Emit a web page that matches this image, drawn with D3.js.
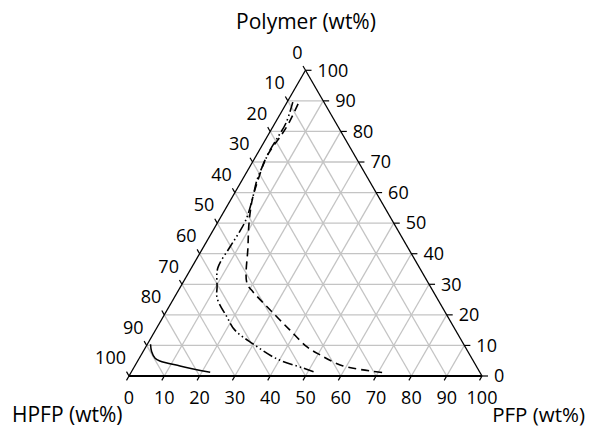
<!DOCTYPE html>
<html>
<head>
<meta charset="utf-8">
<script src="https://cdn.jsdelivr.net/npm/d3@7"></script>
<style>
  html, body { margin: 0; padding: 0; background: #fff; }
  svg { display: block; }
  text { font-family: "Open Sans", "Noto Sans", sans-serif; fill: #000; }
</style>
</head>
<body>
<svg id="chart" width="591" height="427"></svg>
<script>
// ---- data (wt%) ----
const tickValues = [0, 10, 20, 30, 40, 50, 60, 70, 80, 90, 100];
const axisTitles = ["Polymer (wt%)", "HPFP (wt%)", "PFP (wt%)"];

// solid curve
const solidPolymer = [10.4, 8.0, 5.8, 4.9, 3.3, 1.2];
const solidPFP     = [0.9, 2.4, 4.5, 6.3, 12.8, 22.4];

// dashed curve
const dashedPolymer = [89.0, 82.8, 78.2, 74.6, 70.7, 64.1, 57.6, 50.0, 42.2, 30.4, 27.5, 21.6, 15.0, 9.5, 6.9, 3.3, 1.1];
const dashedPFP     = [3.4, 3.9, 3.7, 3.2, 3.2, 4.5, 6.1, 9.0, 12.6, 18.2, 21.4, 29.2, 38.1, 45.7, 50.7, 59.0, 71.7];

// dash-dot-dot curve
const dotPolymer = [89.6, 82.8, 78.2, 73.9, 69.7, 64.1, 57.6, 51.0, 46.5, 42.2, 35.3, 29.1, 25.5, 19.3, 15.0, 10.5, 5.6, 2.6, 1.3];
const dotPFP     = [1.6, 3.1, 3.1, 3.0, 3.4, 4.2, 6.1, 7.6, 7.7, 7.5, 7.5, 10.4, 12.2, 18.1, 22.5, 29.9, 39.1, 48.0, 51.8];

// ---- layout ----
const x0 = 129, y0 = 376, W = 353, H = W * Math.sqrt(3) / 2;
const sx = d3.scaleLinear().domain([0, 100]).range([x0, x0 + W]);
const sy = d3.scaleLinear().domain([0, 100]).range([y0, y0 - H]);
// point from (polymer, pfp)
const P = (poly, pfp) => [sx(pfp + poly / 2), sy(poly)];

const svg = d3.select("#chart");

// grid
const grid = svg.append("g").attr("stroke", "#c4c4c4").attr("stroke-width", 1.3).attr("fill", "none");
tickValues.slice(1, -1).forEach(v => {
  let a = P(v, 0), b = P(v, 100 - v);
  grid.append("line").attr("x1", a[0]).attr("y1", a[1]).attr("x2", b[0]).attr("y2", b[1]);
  a = P(0, v); b = P(100 - v, v);
  grid.append("line").attr("x1", a[0]).attr("y1", a[1]).attr("x2", b[0]).attr("y2", b[1]);
  a = P(0, 100 - v); b = P(100 - v, 0);
  grid.append("line").attr("x1", a[0]).attr("y1", a[1]).attr("x2", b[0]).attr("y2", b[1]);
});

// triangle frame
const A = P(0, 0), B = P(0, 100), C = P(100, 0);
svg.append("line").attr("x1", A[0]).attr("y1", A[1]).attr("x2", C[0]).attr("y2", C[1])
  .attr("stroke", "#000").attr("stroke-width", 1.3);
svg.append("line").attr("x1", B[0]).attr("y1", B[1]).attr("x2", C[0]).attr("y2", C[1])
  .attr("stroke", "#000").attr("stroke-width", 1.3);
svg.append("line").attr("x1", A[0]).attr("y1", A[1]).attr("x2", B[0]).attr("y2", B[1])
  .attr("stroke", "#000").attr("stroke-width", 2.2);

// ticks and labels
const tl = 5, c30 = Math.sqrt(3) / 2;
const ticks = svg.append("g").attr("stroke", "#000").attr("stroke-width", 1.2);
const labels = svg.append("g").attr("font-size", 18);
tickValues.forEach(v => {
  // right axis: polymer
  let p = P(v, 100 - v);
  ticks.append("line").attr("x1", p[0]).attr("y1", p[1]).attr("x2", p[0] + tl + 1).attr("y2", p[1]);
  labels.append("text").attr("x", p[0] + 12).attr("y", p[1]).attr("dy", "0.35em")
    .attr("text-anchor", "start").text(v);
  // left axis: HPFP (0 at top)
  p = P(100 - v, 0);
  ticks.append("line").attr("x1", p[0]).attr("y1", p[1]).attr("x2", p[0] - tl * 0.5).attr("y2", p[1] - tl * c30);
  labels.append("text").attr("x", p[0] - 3).attr("y", p[1] - 18).attr("dy", "0.35em")
    .attr("text-anchor", "end").text(v);
  // bottom axis: PFP
  p = P(0, v);
  ticks.append("line").attr("x1", p[0]).attr("y1", p[1]).attr("x2", p[0] - tl * 0.5).attr("y2", p[1] + tl * c30);
  labels.append("text").attr("x", p[0]).attr("y", 404)
    .attr("text-anchor", "middle").text(v);
});

// axis titles
svg.append("text").attr("x", 306).attr("y", 29).attr("font-size", 21).attr("text-anchor", "middle").text(axisTitles[0]);
svg.append("text").attr("x", 12).attr("y", 422).attr("font-size", 21).attr("text-anchor", "start").text(axisTitles[1]);
svg.append("text").attr("x", 585).attr("y", 422).attr("font-size", 20.5).attr("text-anchor", "end").text(axisTitles[2]);

// curves
const line = d3.line().curve(d3.curveCatmullRom.alpha(0.5));
const mk = (polys, pfps) => polys.map((v, i) => P(v, pfps[i]));

svg.append("path").attr("d", line(mk(solidPolymer, solidPFP)))
  .attr("fill", "none").attr("stroke", "#000").attr("stroke-width", 1.5);
svg.append("path").attr("d", line(mk(dashedPolymer, dashedPFP)))
  .attr("fill", "none").attr("stroke", "#000").attr("stroke-width", 1.6)
  .attr("stroke-dasharray", "8,5");
svg.append("path").attr("d", line(mk(dotPolymer, dotPFP)))
  .attr("fill", "none").attr("stroke", "#000").attr("stroke-width", 1.6)
  .attr("stroke-dasharray", "10,3,1.5,3,1.5,3");
</script>
</body>
</html>
